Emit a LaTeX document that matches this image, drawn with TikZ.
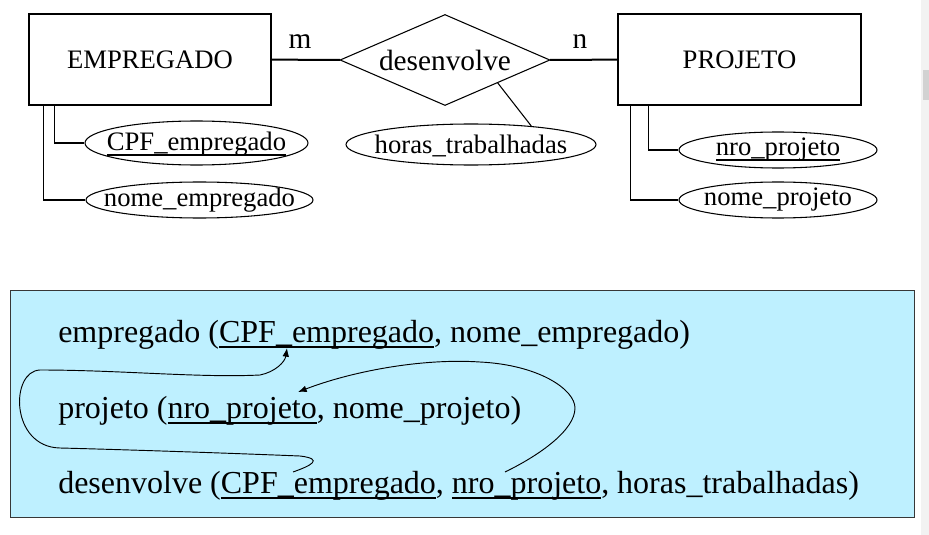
\documentclass[tikz,border=0pt]{standalone}
\usepackage{fontspec}
\setmainfont{Liberation Serif}
\usetikzlibrary{shapes.geometric,arrows.meta}
\definecolor{painel}{RGB}{190,240,255}
\definecolor{borda}{RGB}{55,55,55}
\newsavebox{\chavebox}
\newcommand{\chave}[1]{\sbox{\chavebox}{#1}\rlap{\rule[-0.18em]{\wd\chavebox}{0.055em}}\usebox{\chavebox}}

\begin{document}
\begin{tikzpicture}[x=0.75pt, y=-0.75pt, inner sep=0pt,
  ent/.style={rectangle,draw,thick,minimum width=181.5pt,minimum height=68.25pt,font=\fontsize{20}{24}\selectfont},
  rel/.style={diamond,draw,thick,minimum width=157.5pt,minimum height=68.25pt},
  attr/.style={ellipse,draw,thick,minimum width=148.5pt,minimum height=27pt},
  every label/.style={inner sep=0pt,font=\fontsize{20}{24}\selectfont},
  linha/.style={anchor=base west,font=\fontsize{24}{28}\selectfont},
  panel/.style={rectangle,draw=borda,fill=painel,line width=0.75pt,minimum width=678pt,minimum height=170.25pt}]
\useasboundingbox (0,0) rectangle (929,535);
\fill[gray!10] (921,0) rectangle (929,535);
\fill[gray!35] (923,70) rectangle (929,100);

\node[ent] (emp) at (150,59.5) {EMPREGADO};
\node[ent,minimum width=182.25pt] (proj) at (739.5,59.5) {PROJETO};
\node[rel,label={[font=\fontsize{22}{26}\selectfont]center:desenvolve}] (des) at (445,60) {};
\node[font=\fontsize{22}{26}\selectfont] (m) at (300,42) {m};
\node[font=\fontsize{22}{26}\selectfont] (n) at (580,42) {n};

\node[attr,minimum width=167.25pt,minimum height=33pt,label={[yshift=-1pt]center:{\chave{CPF\_empregado}}}] (a1) at (196.5,143) {};
\node[attr,minimum width=170.25pt,label=center:{nome\_empregado}] (a2) at (199.5,200) {};
\node[attr,minimum width=187.5pt,minimum height=30.75pt,label={[yshift=-1pt]center:{horas\_trabalhadas}}] (a3) at (471,144.5) {};
\node[attr,label=center:{\chave{nro\_projeto}}] (a4) at (778,150) {};
\node[attr,label=center:{nome\_projeto}] (a5) at (778,200) {};

\draw[line width=1.5pt] (emp) -- (des);
\draw[line width=1.5pt] (des) -- (proj);
\draw[thick] (des.south east) -- (a3.17);
\draw[thick] ([xshift=19.5pt]emp.south west) |- (a1.west);
\draw[thick] ([xshift=11.25pt]emp.south west) |- (a2.west);
\draw[thick] ([xshift=23.25pt]proj.south west) |- (a4.west);
\draw[thick] ([xshift=9.75pt]proj.south west) |- (a5.west);

% mapeamento relacional
\node[panel] (box) at (462,403.5) {};
\node[linha] (t1) at (58,342) {empregado (\chave{CPF\_empregado}, nome\_empregado)};
\node[linha] (t2) at (58,418) {projeto (\chave{nro\_projeto}, nome\_projeto)};
\node[linha] (t3) at (58,493) {desenvolve (\chave{CPF\_empregado}, \chave{nro\_projeto}, horas\_trabalhadas)};

\coordinate (c1) at (293,472);
\coordinate (c2) at (287,348);
\coordinate (c3) at (505,472);
\coordinate (c4) at (298,392);
\draw[line width=0.7pt,-{Latex[length=6.5pt,width=5pt]}] (c1)
  .. controls (310,466) and (325,459) .. (300,456)
  .. controls (200,452) and (100,449) .. (60,448)
  .. controls (10,447) and (10,371) .. (40,370)
  .. controls (120,370) and (200,378) .. (260,375)
  .. controls (275,372) and (285,362) .. (c2);
\draw[line width=0.7pt,-{Latex[length=6.5pt,width=5pt]}] (c3)
  .. controls (540,455) and (575,430) .. (575,408)
  .. controls (575,390) and (540,365) .. (480,362)
  .. controls (420,358) and (350,372) .. (c4);
\end{tikzpicture}
\end{document}
